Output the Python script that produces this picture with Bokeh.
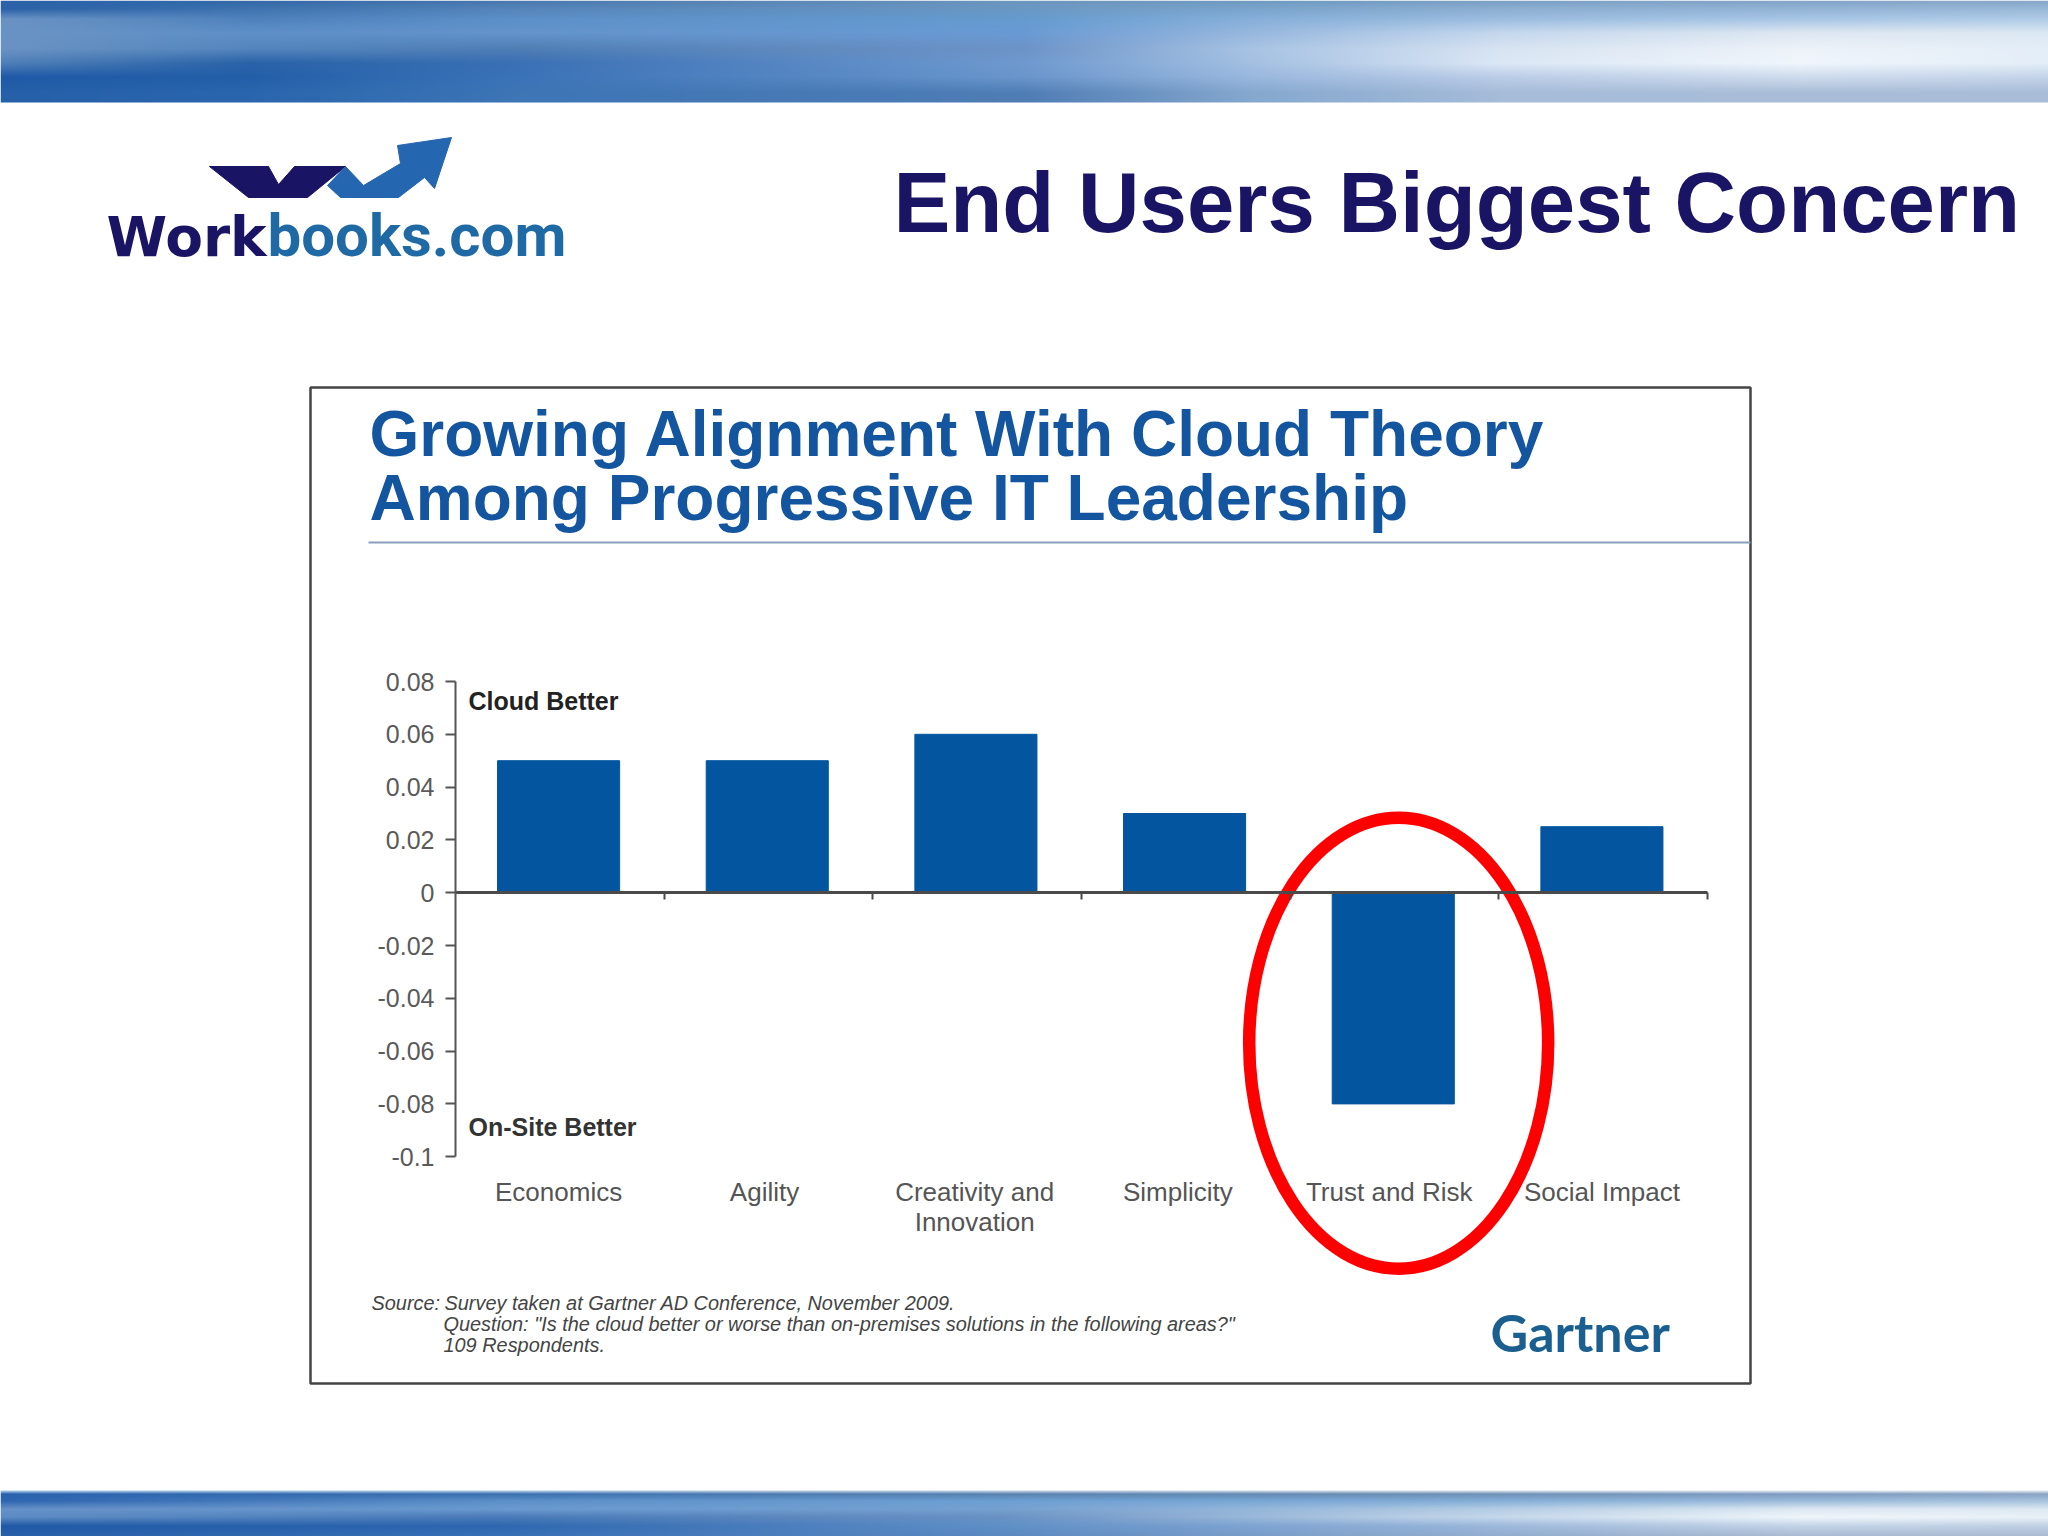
import numpy as np
from bokeh.embed import file_html
from bokeh.models import (BoxAnnotation, ColumnDataSource, FixedTicker,
                          Label, LinearAxis, PolyAnnotation, Range1d)
from bokeh.plotting import figure
from bokeh.resources import INLINE

# ---------------------------- data ----------------------------
categories = ["Economics", "Agility", "Creativity and\nInnovation", "Simplicity",
              "Trust and Risk", "Social Impact"]
values = [0.05, 0.05, 0.06, 0.03, -0.08, 0.025]
y_ticks = [0.08, 0.06, 0.04, 0.02, 0, -0.02, -0.04, -0.06, -0.08, -0.1]
y_tick_labels = ["0.08", "0.06", "0.04", "0.02", "0", "-0.02", "-0.04", "-0.06", "-0.08", "-0.1"]

W, H = 2048, 1536
TOP_H, BOT_Y = 102, 1490

# ---------------------------- layout scale ----------------------------
AX_L, AX_R, Y008 = 455, 1707, 681
PX_X = (AX_R - AX_L) / len(categories)
PX_Y = 2640


def xd(px):
    return (px - AX_L) / PX_X


def yd(px):
    return 0.08 - (px - Y008) / PX_Y


positions = [i + 0.5 for i in range(len(categories))]
bar_shift = -0.006
label_shifts = [-0.006, -0.019, -0.012, -0.038, -0.025, -0.006]
bar_positions = [x + bar_shift for x in positions]
label_positions = [round(x + s, 3) for x, s in zip(positions, label_shifts)]

p = figure(width=W, height=H, x_range=Range1d(xd(0), xd(W)), y_range=Range1d(yd(H), yd(0)),
           toolbar_location=None, output_backend="svg", x_axis_location=None, y_axis_location=None,
           min_border=0, outline_line_color=None, background_fill_color="white", border_fill_color="white")
p.grid.visible = False


# ---------------------------- banners ----------------------------
def banner(xs, ys, grid, y0):
    h = int(ys[-1])
    arr = np.array([[[int(c[i:i+2], 16) for i in (1, 3, 5)] for c in row] for row in grid], float)
    xx = np.arange(W)
    yy = np.arange(h)
    by_x = np.stack([np.stack([np.interp(xx, xs, arr[r, :, k]) for k in range(3)], -1)
                     for r in range(len(ys))])
    img = np.zeros((h, W, 4), dtype=np.uint8)
    for k in range(3):
        for col in range(W):
            img[:, col, k] = np.interp(yy, ys, by_x[:, col, k])
    img[:, :, 3] = 255
    p.image_rgba(image=[np.flipud(img).view(np.uint32).reshape(h, W)], x=xd(0), y=yd(y0 + h),
                 dw=xd(W) - xd(0), dh=yd(y0) - yd(y0 + h))


top_xs = [0, 250, 512, 1024, 1250, 1500, 1800, 2048]
top_ys = [0, 8, 18, 32, 48, 62, 76, 92, 102]
top_grid = [
    ["#2b62a8", "#3468a8", "#4a78ad", "#6e96be", "#6f9ac0", "#7ba0c4", "#84a4c8", "#88a6c8"],
    ["#2b62a8", "#3f74b0", "#5585bb", "#6b98c4", "#7ba5cd", "#8cafd2", "#94b4d6", "#9ab8d8"],
    ["#6a93c4", "#4f82bd", "#5c90c8", "#659bd0", "#86b0da", "#9cbde0", "#a8c6e6", "#b0cce8"],
    ["#6a93c4", "#5f90c8", "#6494cc", "#6a9ad4", "#98b8de", "#c5d8ee", "#dfe8f2", "#dce8f2"],
    ["#6a93c4", "#5485bd", "#4f7eb5", "#6d94c8", "#a8c4e4", "#d8e4f2", "#eef3f9", "#e4eef8"],
    ["#5080b8", "#2a63a8", "#3a70b5", "#6f9ad0", "#a4c0e2", "#dce8f6", "#f0f6fc", "#e4eef8"],
    ["#1f5aa8", "#235fa8", "#3b73b8", "#6a96cc", "#9ab8de", "#bccde8", "#cfdcee", "#c4d4ea"],
    ["#2560a8", "#2a66ae", "#3d75b5", "#4f7db5", "#85a8cf", "#a6bcd9", "#a9bdd8", "#a8bcd8"],
    ["#2560a8", "#2a66ae", "#3d75b5", "#4f7db5", "#85a8cf", "#a6bcd9", "#a9bdd8", "#a8bcd8"],
]
bot_xs = [0, 500, 1000, 1400, 1800, 2048]
bot_ys = [0, 3, 10, 18, 26, 35, 46]
bot_grid = [
    ["#a8c8e8", "#b0c8e0", "#c0cfe0", "#d0dae6", "#dde4ee", "#dde4ee"],
    ["#2a62ae", "#3a70b0", "#5882b0", "#6a8eb4", "#7e9cc0", "#8aa4c4"],
    ["#2f66b0", "#5c90c8", "#6ea0d4", "#80acd8", "#9cbcdc", "#a8c4e0"],
    ["#6690c8", "#6a9ad0", "#75a0d0", "#a8c4e0", "#dce8f2", "#dce8f2"],
    ["#5e8cc4", "#4a7ab8", "#6a92c4", "#b8cee6", "#f0f6fb", "#eaf2f8"],
    ["#2059a6", "#2f68b0", "#5f90c8", "#90b0d8", "#c4d4e8", "#c0d0e4"],
    ["#2a62aa", "#3a72b8", "#5a88c0", "#8aa8cc", "#a8b8d0", "#a8b8d0"],
]
banner(top_xs, top_ys, top_grid, 0)
banner(bot_xs, bot_ys, bot_grid, BOT_Y)

# ---------------------------- bars ----------------------------
src = ColumnDataSource(dict(x=bar_positions, top=values))
p.vbar(x="x", top="top", bottom=0, width=0.585, source=src, fill_color="#03559f", line_color="#03559f")

# category labels axis
cat_ax = LinearAxis(fixed_location=-0.1, ticker=FixedTicker(ticks=label_positions), bounds=(0, 6),
                    major_label_overrides={k: c for k, c in zip(label_positions, categories)},
                    axis_line_color=None, major_tick_line_color=None,
                    minor_tick_line_color=None, major_label_text_font="Liberation Sans",
                    major_label_text_font_size="26px", major_label_text_color="#555555",
                    major_label_text_line_height=1.0, major_label_standoff=14)
p.add_layout(cat_ax, "below")

# zero line with ticks at the category boundaries
zero_ax = LinearAxis(fixed_location=0, ticker=FixedTicker(ticks=[1, 2, 3, 4, 5, 6]), bounds=(0, 6),
                     axis_line_color="#4a4a4a", axis_line_width=3, major_tick_line_color="#4a4a4a",
                     major_tick_line_width=2, major_tick_out=7, major_tick_in=0, minor_tick_line_color=None,
                     major_label_text_color=None, major_label_text_font_size="1px")
p.add_layout(zero_ax, "below")

# value axis
y_ax = LinearAxis(fixed_location=0, ticker=FixedTicker(ticks=y_ticks), bounds=(-0.1, 0.08),
                  major_label_overrides={t: s for t, s in zip(y_ticks, y_tick_labels)},
                  axis_line_color="#555555", axis_line_width=2, major_tick_line_color="#555555",
                  major_tick_line_width=2, major_tick_out=10, major_tick_in=0, minor_tick_line_color=None,
                  major_label_text_font="Liberation Sans", major_label_text_font_size="25px",
                  major_label_text_color="#5a5a5a", major_label_standoff=11)
p.add_layout(y_ax, "left")

# highlight ring
p.ellipse(x=[4.52], y=[-0.057], width=[299], height=[451], width_units="screen", height_units="screen",
          fill_color=None, line_color="#fe0000", line_width=12.5)


def text(t, x, y, size, color, font="Liberation Sans", style="normal", align="left"):
    p.add_layout(Label(x=x, y=y, x_units="canvas", y_units="canvas", text=t, text_font=font,
                       text_font_size=f"{size}px", text_font_style=style, text_color=color,
                       text_align=align, text_baseline="middle"))


def poly(points, color):
    p.add_layout(PolyAnnotation(xs=[a for a, b in points], ys=[b for a, b in points],
                                xs_units="canvas", ys_units="canvas", fill_color=color, fill_alpha=1,
                                line_color=color, line_alpha=1, line_width=1, level="overlay"))


# panel frame and rule
p.add_layout(BoxAnnotation(left=310, right=1750, top=387, bottom=1383, left_units="canvas",
                           right_units="canvas", top_units="canvas", bottom_units="canvas",
                           fill_alpha=0, line_color="#444444", line_alpha=1, line_width=2.5, level="underlay"))
p.add_layout(BoxAnnotation(left=368, right=1750, top=541, bottom=543, left_units="canvas",
                           right_units="canvas", top_units="canvas", bottom_units="canvas",
                           fill_color="#8a9fbc", fill_alpha=1, line_alpha=0, level="underlay"))

# slide text
text("End Users Biggest Concern", 893, 202, 85.2, "#1a1464", style="bold")
text("Growing Alignment With Cloud Theory", 369, 433, 64, "#14559f", style="bold")
text("Among Progressive IT Leadership", 369, 497, 64, "#14559f", style="bold")
text("Cloud Better", 468, 700, 25, "#222222", style="bold")
text("On-Site Better", 468, 1126, 25, "#333333", style="bold")
text("Source:", 371, 1302, 19.9, "#444444", style="italic")
text("Survey taken at Gartner AD Conference, November 2009.", 444, 1302, 19.9, "#444444", style="italic")
text("Question: \"Is the cloud better or worse than on-premises solutions in the following areas?\"",
     443, 1323, 19.9, "#444444", style="italic")
text("109 Respondents.", 443, 1344, 19.9, "#444444", style="italic")
text("Gartner", 1490, 1331, 52, "#1a5f8f", font="Lato", style="bold")

# logo
text("Work", 106, 236, 55, "#1a1464", font="DejaVu Sans", style="bold")
text("books.com", 267, 235, 60, "#1f6aa5", font="Roboto", style="bold")
poly([(209, 166), (268, 166), (278, 184), (294, 166), (345, 166), (307, 197), (248, 197)], "#1a1464")
poly([(345, 166), (363, 185), (400, 163), (397, 145), (451, 137), (434, 188), (424, 177), (398, 197),
      (340, 197), (327, 185)], "#2566b0")

open("out.html", "w").write(file_html(p, INLINE))
